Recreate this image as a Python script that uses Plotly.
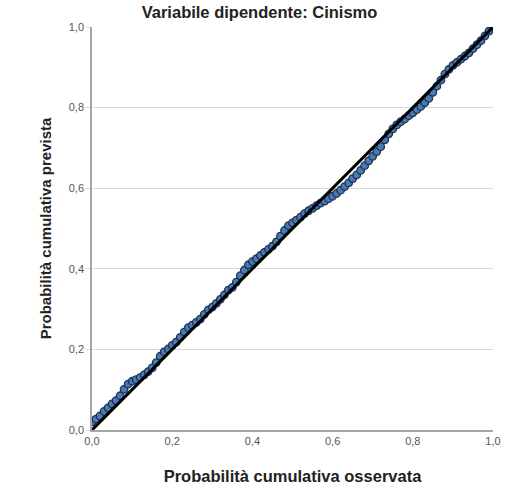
import plotly.graph_objects as go

# Observed cumulative probability (x) and expected cumulative probability (y)
osservata = [0.00, 0.01, 0.02, 0.03, 0.04, 0.05, 0.06, 0.07, 0.08, 0.09,
             0.10, 0.11, 0.12, 0.13, 0.14, 0.15, 0.16, 0.17, 0.18, 0.19,
             0.20, 0.21, 0.22, 0.23, 0.24, 0.25, 0.26, 0.27, 0.28, 0.29,
             0.30, 0.31, 0.32, 0.33, 0.34, 0.35, 0.36, 0.37, 0.38, 0.39,
             0.40, 0.41, 0.42, 0.43, 0.44, 0.45, 0.46, 0.47, 0.48, 0.49,
             0.50, 0.51, 0.52, 0.53, 0.54, 0.55, 0.56, 0.57, 0.58, 0.59,
             0.60, 0.61, 0.62, 0.63, 0.64, 0.65, 0.66, 0.67, 0.68, 0.69,
             0.70, 0.71, 0.72, 0.73, 0.74, 0.75, 0.76, 0.77, 0.78, 0.79,
             0.80, 0.81, 0.82, 0.83, 0.84, 0.85, 0.86, 0.87, 0.88, 0.89,
             0.90, 0.91, 0.92, 0.93, 0.94, 0.95, 0.96, 0.97, 0.98, 0.99,
             1.00]
prevista = [0.020, 0.027, 0.035, 0.046, 0.055, 0.065, 0.073, 0.085, 0.101, 0.114,
            0.121, 0.125, 0.130, 0.137, 0.145, 0.154, 0.167, 0.183, 0.194, 0.201,
            0.210, 0.218, 0.230, 0.243, 0.254, 0.260, 0.267, 0.275, 0.287, 0.298,
            0.305, 0.314, 0.324, 0.335, 0.347, 0.354, 0.367, 0.383, 0.397, 0.410,
            0.418, 0.425, 0.433, 0.441, 0.448, 0.456, 0.467, 0.481, 0.495, 0.507,
            0.514, 0.521, 0.528, 0.537, 0.544, 0.550, 0.557, 0.563, 0.568, 0.574,
            0.580, 0.587, 0.595, 0.604, 0.613, 0.624, 0.633, 0.644, 0.656, 0.668,
            0.679, 0.691, 0.703, 0.720, 0.735, 0.747, 0.757, 0.765, 0.772, 0.780,
            0.787, 0.795, 0.803, 0.812, 0.823, 0.838, 0.853, 0.868, 0.883, 0.895,
            0.905, 0.912, 0.920, 0.928, 0.936, 0.946, 0.956, 0.966, 0.978, 0.990,
            1.000]

diag_x = [0.0, 1.0]
diag_y = [0.0, 1.0]
tick_vals = [0.0, 0.2, 0.4, 0.6, 0.8, 1.0]

font = "Liberation Sans, Arial, sans-serif"

fig = go.Figure()
fig.add_trace(go.Scatter(x=osservata, y=prevista, mode="markers",
                         marker=dict(size=7.5, color="#4a7ab4",
                                     line=dict(color="#1c3350", width=1.3)),
                         showlegend=False))
fig.add_trace(go.Scatter(x=diag_x, y=diag_y, mode="lines",
                         line=dict(color="black", width=3),
                         showlegend=False))

fig.update_layout(
    width=519, height=498,
    margin=dict(l=92, r=26, t=27, b=68, autoexpand=False),
    paper_bgcolor="white", plot_bgcolor="white",
    separators=",.",
    font=dict(family=font),
    title=dict(text="<b>Variabile dipendente: Cinismo</b>", x=0.5, xref="container",
               y=0.975, yref="container", yanchor="middle",
               font=dict(size=16.5, color="#222", family=font)),
)
fig.update_xaxes(range=[0, 1], tickvals=tick_vals, tickformat=".1f",
                 showgrid=False, zeroline=False, automargin=False,
                 showline=True, linecolor="#a6a6a6", linewidth=2,
                 tickfont=dict(size=11, color="#555"),
                 title=dict(text="<b>Probabilità cumulativa osservata</b>",
                            font=dict(size=16.5, color="#222"), standoff=24))
fig.update_yaxes(range=[0, 1], tickvals=tick_vals, tickformat=".1f",
                 showgrid=True, gridcolor="#d9d9d9", gridwidth=1.2, zeroline=False,
                 automargin=False,
                 showline=True, linecolor="#a6a6a6", linewidth=1.5,
                 ticks="outside", ticklen=4, tickcolor="#d9d9d9",
                 tickfont=dict(size=11, color="#555"),
                 title=dict(text="<b>Probabilità cumulativa prevista</b>",
                            font=dict(size=15, color="#222"), standoff=14))

# drop the browser's default body margin so the figure sits at the page corner
fig.write_html("out.html", config={"displayModeBar": False},
               post_script="document.body.style.margin='0';")
